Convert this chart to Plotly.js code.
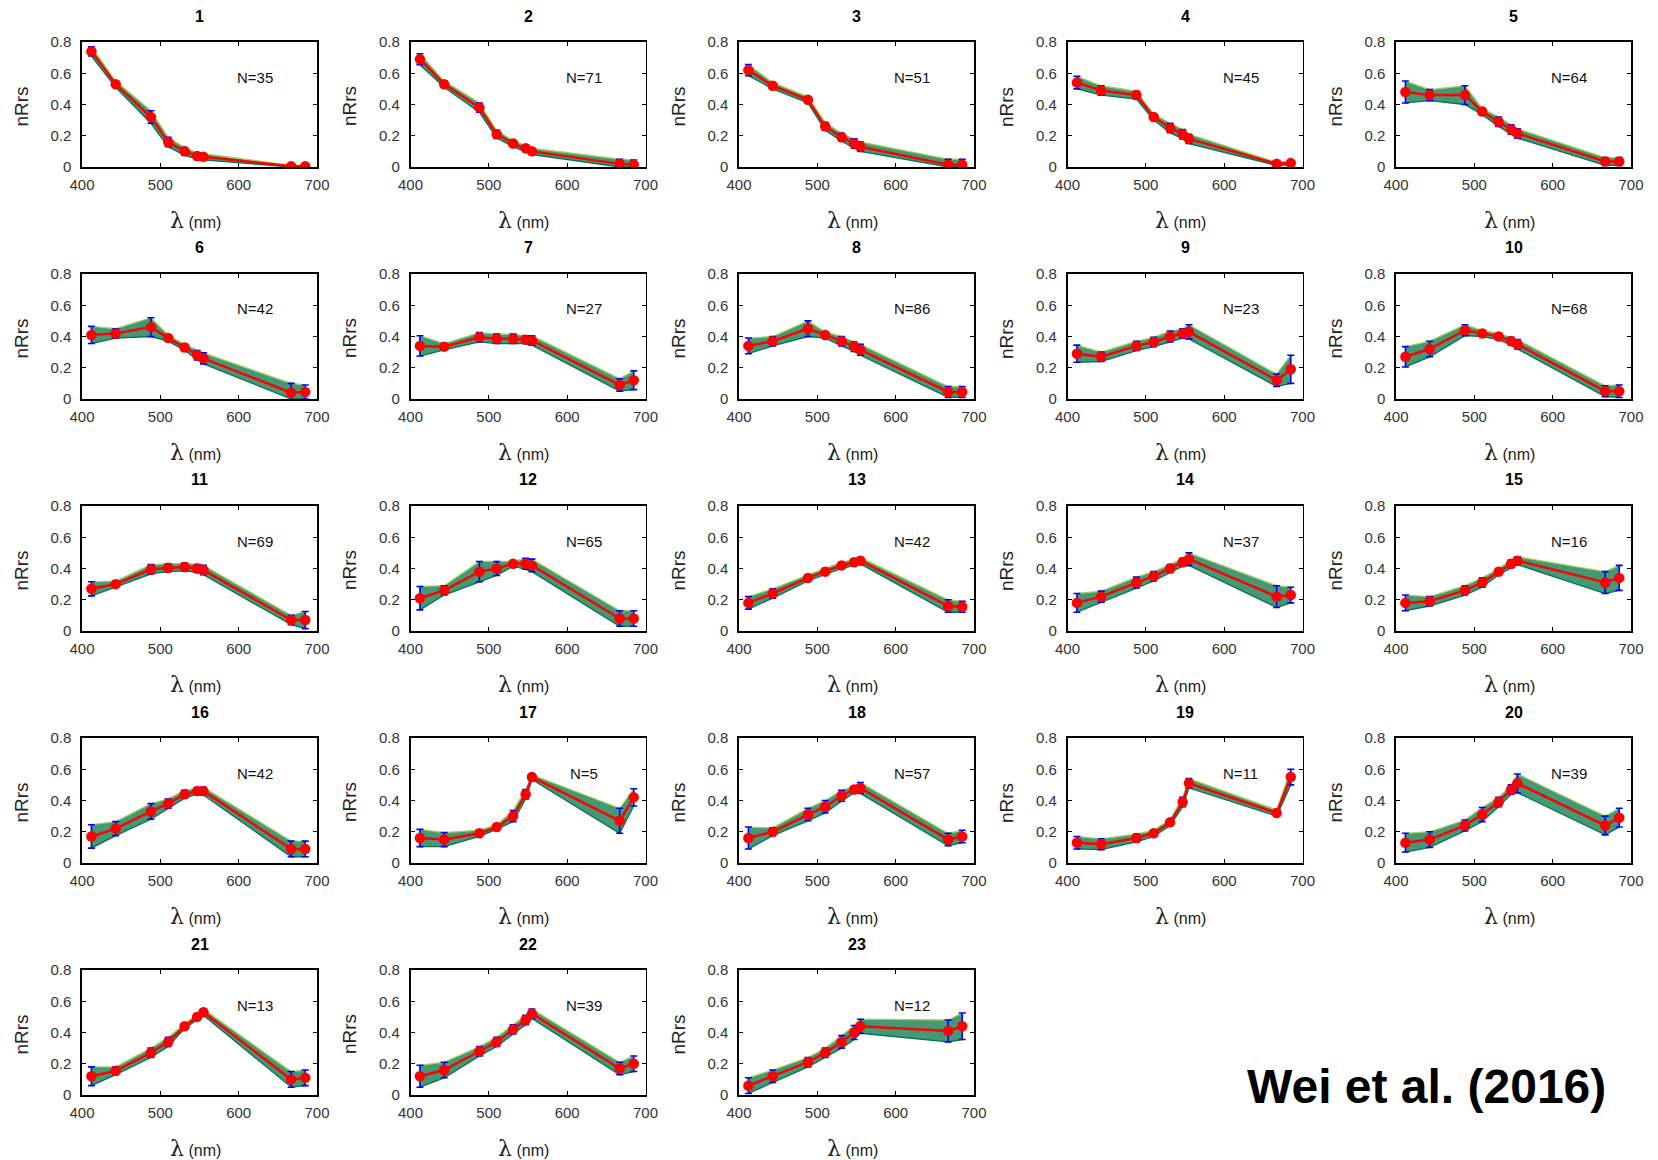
<!DOCTYPE html>
<html>
<head>
<meta charset="utf-8">
<script src="https://cdn.plot.ly/plotly-3.0.1.min.js"></script>
<style>html,body{margin:0;padding:0;background:#fff;}#chart{width:1658px;height:1160px;}</style>
</head>
<body>
<div id="chart"></div>
<script>
// ---------------- DATA ----------------
const wavelengths = [412, 443, 488, 510, 531, 547, 555, 667, 685];
const panelLabels = ['1','2','3','4','5','6','7','8','9','10','11','12','13','14','15','16','17','18','19','20','21','22','23'];
const sampleCounts = [35,71,51,45,64,42,27,86,23,68,69,65,42,37,16,42,5,57,11,39,13,39,12];

const mean1  = [0.74,0.53,0.32,0.16,0.10,0.07,0.065,0.005,0.005];
const mean2  = [0.69,0.53,0.38,0.21,0.15,0.12,0.10,0.02,0.015];
const mean3  = [0.62,0.52,0.43,0.26,0.19,0.15,0.13,0.015,0.015];
const mean4  = [0.54,0.49,0.46,0.32,0.25,0.21,0.18,0.02,0.025];
const mean5  = [0.48,0.46,0.46,0.355,0.29,0.24,0.215,0.035,0.035];
const mean6  = [0.41,0.42,0.46,0.39,0.33,0.28,0.26,0.04,0.045];
const mean7  = [0.34,0.335,0.395,0.385,0.385,0.38,0.375,0.09,0.12];
const mean8  = [0.34,0.37,0.45,0.41,0.37,0.335,0.315,0.045,0.045];
const mean9  = [0.29,0.27,0.34,0.365,0.40,0.42,0.43,0.12,0.19];
const mean10 = [0.27,0.32,0.44,0.42,0.40,0.37,0.35,0.05,0.05];
const mean11 = [0.27,0.30,0.395,0.405,0.41,0.40,0.39,0.07,0.07];
const mean12 = [0.21,0.26,0.38,0.40,0.43,0.43,0.42,0.08,0.08];
const mean13 = [0.18,0.24,0.34,0.38,0.42,0.44,0.45,0.16,0.155];
const mean14 = [0.18,0.22,0.31,0.35,0.40,0.44,0.46,0.22,0.23];
const mean15 = [0.18,0.19,0.26,0.31,0.38,0.43,0.45,0.31,0.34];
const mean16 = [0.17,0.22,0.33,0.38,0.44,0.46,0.46,0.09,0.09];
const mean17 = [0.16,0.15,0.19,0.23,0.30,0.44,0.55,0.27,0.42];
const mean18 = [0.16,0.20,0.31,0.36,0.43,0.47,0.48,0.15,0.17];
const mean19 = [0.13,0.12,0.16,0.19,0.26,0.39,0.51,0.32,0.55];
const mean20 = [0.13,0.15,0.24,0.31,0.39,0.47,0.51,0.24,0.29];
const mean21 = [0.12,0.155,0.27,0.34,0.44,0.50,0.53,0.10,0.11];
const mean22 = [0.12,0.16,0.28,0.34,0.42,0.48,0.52,0.17,0.20];
const mean23 = [0.06,0.12,0.21,0.27,0.34,0.40,0.44,0.41,0.44];

const err1  = [0.03,0.02,0.04,0.03,0.025,0.02,0.02,0.005,0.005];
const err2  = [0.035,0.02,0.03,0.025,0.02,0.02,0.02,0.03,0.03];
const err3  = [0.035,0.02,0.02,0.025,0.025,0.03,0.03,0.035,0.035];
const err4  = [0.04,0.03,0.025,0.02,0.03,0.03,0.03,0.01,0.012];
const err5  = [0.07,0.035,0.06,0.02,0.03,0.03,0.03,0.025,0.025];
const err6  = [0.055,0.03,0.06,0.02,0.02,0.03,0.035,0.06,0.045];
const err7  = [0.065,0.02,0.03,0.03,0.03,0.025,0.03,0.04,0.06];
const err8  = [0.05,0.03,0.05,0.02,0.03,0.03,0.035,0.035,0.035];
const err9  = [0.055,0.03,0.03,0.03,0.035,0.03,0.045,0.04,0.09];
const err10 = [0.065,0.05,0.035,0.02,0.02,0.025,0.03,0.035,0.04];
const err11 = [0.045,0.02,0.03,0.025,0.025,0.025,0.03,0.03,0.055];
const err12 = [0.075,0.03,0.065,0.045,0.015,0.035,0.04,0.05,0.05];
const err13 = [0.04,0.03,0.02,0.02,0.02,0.02,0.02,0.04,0.035];
const err14 = [0.06,0.035,0.035,0.03,0.025,0.025,0.04,0.07,0.05];
const err15 = [0.05,0.03,0.03,0.03,0.02,0.025,0.025,0.07,0.08];
const err16 = [0.075,0.045,0.05,0.03,0.025,0.02,0.025,0.05,0.05];
const err17 = [0.055,0.045,0.02,0.015,0.035,0.03,0.015,0.08,0.055];
const err18 = [0.07,0.025,0.04,0.04,0.035,0.02,0.035,0.04,0.04];
const err19 = [0.04,0.035,0.025,0.02,0.02,0.03,0.03,0.02,0.05];
const err20 = [0.06,0.05,0.035,0.045,0.03,0.03,0.06,0.06,0.06];
const err21 = [0.06,0.025,0.03,0.03,0.015,0.015,0.02,0.05,0.05];
const err22 = [0.07,0.05,0.03,0.03,0.03,0.03,0.03,0.04,0.05];
const err23 = [0.05,0.04,0.03,0.03,0.04,0.045,0.045,0.07,0.085];

const xTickVals = [400, 500, 600, 700];
const yTickVals = [0, 0.2, 0.4, 0.6, 0.8];
const yTickText = ['0', '0.2', '0.4', '0.6', '0.8'];
const creditText = 'Wei et al. (2016)';

const meanSets = [mean1,mean2,mean3,mean4,mean5,mean6,mean7,mean8,mean9,mean10,mean11,mean12,
                  mean13,mean14,mean15,mean16,mean17,mean18,mean19,mean20,mean21,mean22,mean23];
const errSets = [err1,err2,err3,err4,err5,err6,err7,err8,err9,err10,err11,err12,
                 err13,err14,err15,err16,err17,err18,err19,err20,err21,err22,err23];

// ---------------- LAYOUT ----------------
const W = 1658, H = 1160;
const FONT = 'Liberation Sans, Arial, sans-serif';
const PW = 235, PH = 125;
const colLeft = c => 82 + c * 328.5;
const rowTop = r => 42 + r * 232;

const data = [];
const layout = {
  width: W, height: H,
  margin: {l: 0, r: 0, t: 0, b: 0},
  paper_bgcolor: '#ffffff', plot_bgcolor: '#ffffff',
  showlegend: false,
  font: {family: FONT, color: '#000'},
  annotations: []
};

meanSets.forEach((m, i) => {
  const e = errSets[i];
  const r = Math.floor(i / 5), c = i % 5;
  const s = i === 0 ? '' : String(i + 1);
  const x0 = colLeft(c), top = rowTop(r);
  const xa = 'x' + s, ya = 'y' + s;

  layout['xaxis' + s] = {
    domain: [x0 / W, (x0 + PW) / W], anchor: ya,
    range: [400, 700], tickvals: xTickVals,
    ticks: 'inside', ticklen: 4, tickwidth: 1.2, tickcolor: '#000',
    showline: true, linecolor: '#000', linewidth: 1.6, mirror: 'ticks',
    showgrid: false, zeroline: false, ticklabelstandoff: 3,
    tickfont: {family: FONT, size: 15, color: '#333'}, fixedrange: true
  };
  layout['yaxis' + s] = {
    domain: [1 - (top + PH) / H, 1 - top / H], anchor: xa,
    range: [0, 0.8], tickvals: yTickVals, ticktext: yTickText,
    ticks: 'inside', ticklen: 4, tickwidth: 1.2, tickcolor: '#000',
    showline: true, linecolor: '#000', linewidth: 1.6, mirror: 'ticks',
    showgrid: false, zeroline: false, ticklabelstandoff: 6,
    tickfont: {family: FONT, size: 15, color: '#333'}, fixedrange: true
  };

  const lower = m.map((v, k) => Math.max(0, v - e[k]));
  const upper = m.map((v, k) => v + e[k]);

  data.push({
    x: wavelengths, y: lower, xaxis: xa, yaxis: ya, type: 'scatter', mode: 'lines',
    line: {color: 'rgb(10,112,84)', width: 1.3}, hoverinfo: 'skip'
  });
  data.push({
    x: wavelengths, y: upper, xaxis: xa, yaxis: ya, type: 'scatter', mode: 'lines',
    fill: 'tonexty', fillcolor: 'rgba(36,134,94,0.85)',
    line: {color: 'rgb(165,208,92)', width: 1.3}, hoverinfo: 'skip'
  });
  data.push({
    x: wavelengths, y: m, xaxis: xa, yaxis: ya, type: 'scatter', mode: 'markers',
    marker: {size: 1, color: 'rgba(0,0,0,0)'},
    error_y: {type: 'data', array: e, visible: true, color: '#0000ff', thickness: 1.6, width: 3.5},
    hoverinfo: 'skip'
  });
  data.push({
    x: wavelengths, y: m, xaxis: xa, yaxis: ya, type: 'scatter', mode: 'lines+markers',
    line: {color: '#ff0000', width: 2.5},
    marker: {color: '#ff0000', size: 10.5}
  });

  // panel title
  layout.annotations.push({
    xref: 'paper', yref: 'paper', x: (x0 + PW / 2) / W, y: 1 - (top - 26) / H,
    xanchor: 'center', yanchor: 'middle', showarrow: false,
    text: '<b>' + panelLabels[i] + '</b>', font: {family: FONT, size: 16, color: '#000'}
  });
  // N label
  layout.annotations.push({
    xref: 'paper', yref: 'paper', x: (x0 + 173) / W, y: 1 - (top + 35) / H,
    xanchor: 'center', yanchor: 'middle', showarrow: false,
    text: 'N=' + sampleCounts[i], font: {family: FONT, size: 15, color: '#111'}
  });
  // y title
  layout.annotations.push({
    xref: 'paper', yref: 'paper', x: (x0 - 61) / W, y: 1 - (top + PH / 2 + 2) / H,
    xanchor: 'center', yanchor: 'middle', showarrow: false, textangle: -90,
    text: 'nRrs', font: {family: FONT, size: 19, color: '#222'}
  });
  // x title
  layout.annotations.push({
    xref: 'paper', yref: 'paper', x: (x0 + 113) / W, y: 1 - (top + PH + 53) / H,
    xanchor: 'center', yanchor: 'middle', showarrow: false,
    text: '<span style="font-size:22px;font-family:DejaVu Serif">λ</span> (nm)',
    font: {family: FONT, size: 16, color: '#222'}
  });
});

layout.annotations.push({
  xref: 'paper', yref: 'paper', x: 1426 / W, y: 1 - 1086 / H,
  xanchor: 'center', yanchor: 'middle', showarrow: false,
  text: '<b>' + creditText + '</b>',
  font: {family: 'Liberation Sans, Arial, sans-serif', size: 48, color: '#000'}
});

Plotly.newPlot('chart', data, layout, {staticPlot: true, displayModeBar: false});
</script>
</body>
</html>
